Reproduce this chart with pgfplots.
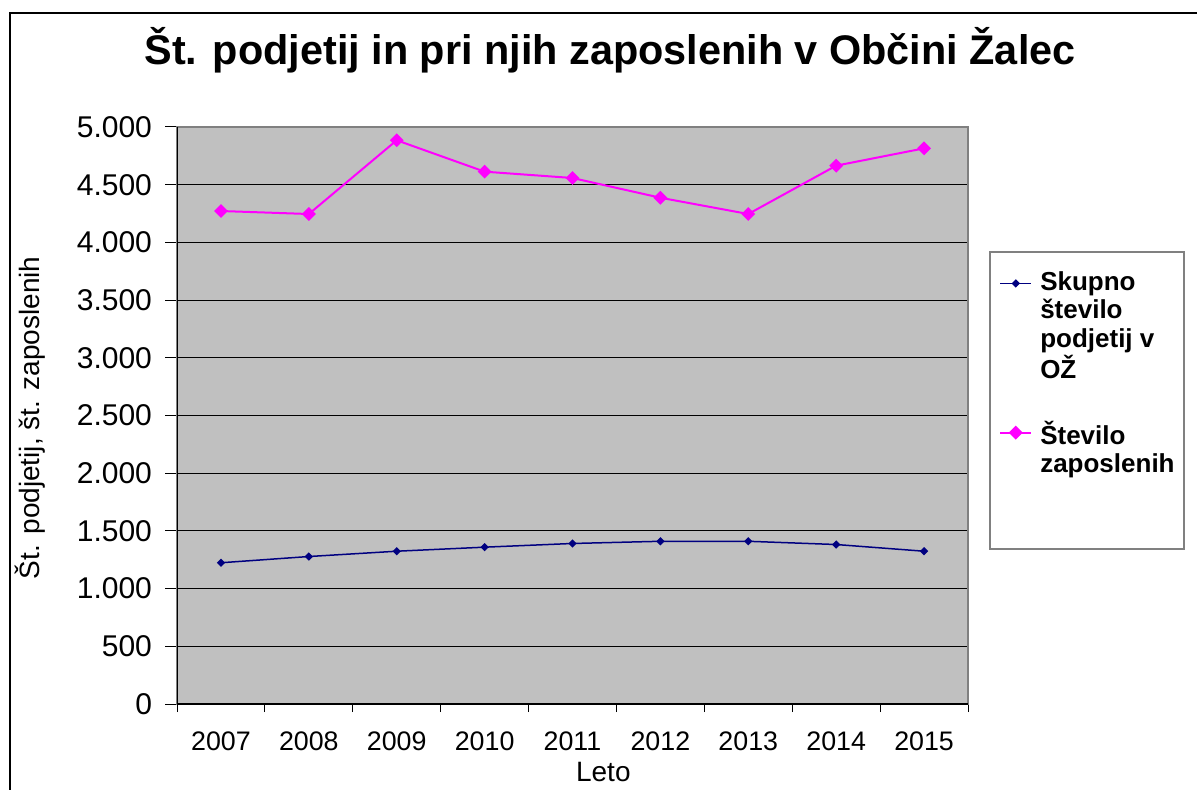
\documentclass[border=0pt]{standalone}
\usepackage{fontspec}
\setmainfont{Liberation Sans}
\usepackage{pgfplots}
\pgfplotsset{compat=1.18}
\definecolor{plotbg}{HTML}{C0C0C0}
\definecolor{navyc}{HTML}{000080}
\definecolor{mag}{HTML}{FF00FF}
\definecolor{bordergray}{HTML}{808080}
\pgfplotsset{
  leg one/.style={legend image code/.code={\draw[##1, mark repeat=2, mark phase=2] plot coordinates {(0pt,21.5pt)(7.75pt,21.5pt)(15.5pt,21.5pt)};}},
  leg two/.style={legend image code/.code={\draw[##1, mark repeat=2, mark phase=2] plot coordinates {(0pt,8pt)(7.75pt,8pt)(15.5pt,8pt)};}},
}
\begin{document}
\begin{tikzpicture}
\clip (0pt,0pt) rectangle (598.5pt,-395pt);
\draw[line width=0.6pt] (5pt,-1000pt) -- (5pt,-6.5pt) -- (1000pt,-6.5pt);
\node[font=\bfseries\fontsize{20.7}{24}\selectfont] at (305pt,-25pt) {Št. podjetij in pri njih zaposlenih v Občini Žalec};
\draw[bordergray, line width=0.6pt] (495pt,-126pt) rectangle (592pt,-274.5pt);
\begin{axis}[
  at={(88.5pt,-352pt)}, anchor=south west,
  scale only axis, width=395.5pt, height=288.5pt,
  xmin=-0.5, xmax=8.5, ymin=0, ymax=5000,
  xtick={0,1,2,3,4,5,6,7,8},
  xticklabels={2007,2008,2009,2010,2011,2012,2013,2014,2015},
  minor xtick={-0.5,0.5,1.5,2.5,3.5,4.5,5.5,6.5,7.5,8.5},
  ytick={0,500,...,5000},
  xtick pos=bottom, ytick pos=left,
  ymajorgrids,
  major grid style={black, line width=0.5pt},
  tick align=outside,
  major tick length=6pt, minor tick length=4pt,
  major x tick style={draw=none},
  minor x tick style={black, line width=0.5pt},
  y tick style={black, line width=0.5pt},
  axis background/.style={fill=plotbg},
  axis line style={draw=bordergray, line width=0.7pt},
  scaled y ticks=false,
  /pgf/number format/.cd, 1000 sep={.}, assume math mode=true,
  /pgfplots/.cd,
  xticklabel style={font=\fontsize{13.4}{15}\selectfont, yshift=-4.5pt},
  yticklabel style={font=\fontsize{15}{17}\selectfont, xshift=-3pt},
  xlabel={Leto},
  xlabel style={font=\fontsize{14}{16}\selectfont, at={(axis description cs:0.539,-0.118)}, anchor=center},
  ylabel={Št. podjetij, št. zaposlenih},
  ylabel style={font=\fontsize{14}{16}\selectfont, at={(axis description cs:-0.186,0.496)}, anchor=center},
  legend style={at={(axis description cs:1.039,0.750)}, anchor=north west, draw=none, fill=none,
    inner sep=0pt, row sep=20pt, column sep=4pt,
    nodes={inner sep=0pt, font=\bfseries\fontsize{13}{14.25}\selectfont, align=left}},
  legend cell align=left,
]
\addplot[navyc, line width=0.75pt, mark=square*, mark size=1.1pt, mark options={rotate=45, solid}, leg one] coordinates {
(0,1224) (1,1278) (2,1324) (3,1359) (4,1391) (5,1410) (6,1410) (7,1382) (8,1324)};
\addlegendentry{Skupno\\število\\podjetij v\\OŽ}
\addplot[mag, line width=1pt, mark=square*, mark size=1.95pt, mark options={rotate=45, solid}, leg two] coordinates {
(0,4272) (1,4246) (2,4885) (3,4613) (4,4558) (5,4387) (6,4246) (7,4665) (8,4815)};
\addlegendentry{Število\\zaposlenih}
\draw[black, line width=0.6pt] (rel axis cs:0,1) -- (rel axis cs:0,0) -- (rel axis cs:1,0);
\end{axis}
\end{tikzpicture}
\end{document}
